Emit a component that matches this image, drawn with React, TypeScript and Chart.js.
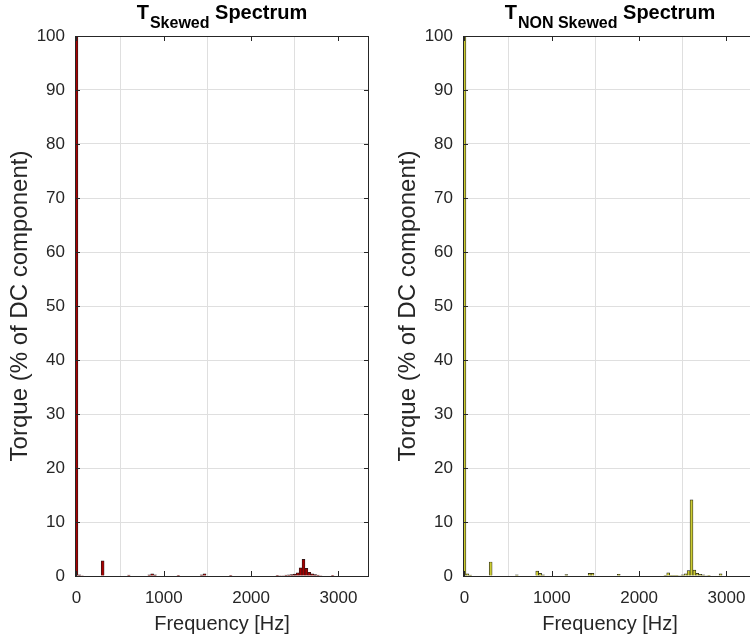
import React, { useEffect, useRef } from "react";
import { Chart, registerables } from "chart.js";

Chart.register(...registerables);

// Frequency bins (Hz) that carry visible energy
const freqHz = [
  0, 33.3, 66.7, 300, 600, 833.3, 866.7, 900, 1166.7, 1433.3, 1466.7, 1766.7,
  2300, 2333.3, 2366.7, 2400, 2433.3, 2466.7, 2500, 2533.3, 2566.7, 2600,
  2633.3, 2666.7, 2700, 2733.3, 2766.7, 2800, 2933.3,
];

// Torque spectrum, % of DC component
const skewedPct = [
  100, 0.2, 0.1, 2.8, 0.15, 0.2, 0.4, 0.2, 0.05, 0.2, 0.4, 0.05,
  0.05, 0.1, 0.1, 0.15, 0.2, 0.25, 0.35, 0.6, 1.5, 3.1,
  1.4, 0.7, 0.4, 0.25, 0.15, 0.1, 0.05,
];
const nonSkewedPct = [
  100, 0.4, 0.15, 2.6, 0.2, 0.9, 0.5, 0.2, 0.25, 0.5, 0.5, 0.3,
  0.05, 0.6, 0.05, 0.05, 0.05, 0.1, 0.2, 0.4, 1.0, 14.1,
  1.1, 0.5, 0.3, 0.2, 0.1, 0.05, 0.4,
];

const xTicks = [0, 1000, 2000, 3000];
const yTicks = [0, 10, 20, 30, 40, 50, 60, 70, 80, 90, 100];
const xMin = -16.7;
const xMax = 3350;
const xLabel = "Frequency [Hz]";
const yLabel = "Torque (% of DC component)";

const FONT = "'Liberation Sans', Arial, Helvetica, sans-serif";
const AXIS = "#262626";
const GRID = "#dfdfdf";

type Props = {
  values: number[];
  fill: string;
  sub: string;
};

function SpectrumChart({ values, fill, sub }: Props) {
  const ref = useRef<HTMLCanvasElement>(null);

  useEffect(() => {
    if (!ref.current) return;

    const frame = {
      id: "matlabFrame",
      afterDraw(chart: any) {
        const { ctx, chartArea: a, scales } = chart;
        ctx.save();
        ctx.strokeStyle = AXIS;
        ctx.lineWidth = 1;
        const tl = 5;
        ctx.beginPath();
        for (const v of xTicks) {
          const px = Math.round(scales.x.getPixelForValue(v)) + 0.5;
          ctx.moveTo(px, a.bottom);
          ctx.lineTo(px, a.bottom - tl);
          ctx.moveTo(px, a.top);
          ctx.lineTo(px, a.top + tl);
        }
        for (const v of yTicks) {
          const py = Math.round(scales.y.getPixelForValue(v)) + 0.5;
          ctx.moveTo(a.left, py);
          ctx.lineTo(a.left + tl, py);
          ctx.moveTo(a.right, py);
          ctx.lineTo(a.right - tl, py);
        }
        ctx.stroke();
        ctx.strokeRect(
          Math.round(a.left) + 0.5,
          Math.round(a.top) + 0.5,
          Math.round(a.right - a.left) - 1,
          Math.round(a.bottom - a.top)
        );

        // Title with subscript
        const mainFont = `bold 20px ${FONT}`;
        const subFont = `bold 16px ${FONT}`;
        ctx.fillStyle = "#000";
        ctx.textBaseline = "alphabetic";
        ctx.textAlign = "left";
        ctx.font = mainFont;
        const wT = ctx.measureText("T").width;
        const wR = ctx.measureText(" Spectrum").width;
        ctx.font = subFont;
        const wS = ctx.measureText(sub).width;
        const total = wT + 1 + wS + wR;
        let x = (a.left + a.right) / 2 - total / 2;
        ctx.font = mainFont;
        ctx.fillText("T", x, 18.5);
        x += wT + 1;
        ctx.font = subFont;
        ctx.fillText(sub, x, 28);
        x += wS;
        ctx.font = mainFont;
        ctx.fillText(" Spectrum", x, 18.5);
        ctx.restore();
      },
    };

    const chart = new Chart(ref.current, {
      type: "bar",
      data: {
        datasets: [
          {
            data: freqHz.map((f, i) => ({ x: f, y: values[i] })),
            backgroundColor: fill,
            borderColor: "#1a1a1a",
            borderWidth: 0.7,
            barPercentage: 1,
            categoryPercentage: 1,
            clip: 0,
          } as any,
        ],
      },
      options: {
        animation: false,
        responsive: false,
        events: [],
        layout: { padding: { top: 36, right: 6, left: 0, bottom: 0 } },
        plugins: {
          legend: { display: false },
          tooltip: { enabled: false },
          title: { display: false },
        },
        scales: {
          x: {
            type: "linear",
            min: xMin,
            max: xMax,
            offset: false,
            afterBuildTicks: (s: any) => {
              s.ticks = xTicks.map((v) => ({ value: v }));
            },
            afterFit: (s: any) => {
              s.height = 68;
            },
            grid: { color: GRID, drawTicks: false, lineWidth: 1 },
            border: { display: false },
            ticks: {
              color: AXIS,
              font: { family: FONT, size: 17 },
              padding: 12,
              maxRotation: 0,
              autoSkip: false,
              callback: (v: any) => String(v),
            },
            title: {
              display: true,
              text: xLabel,
              color: AXIS,
              font: { family: FONT, size: 20 },
              padding: { top: 0, bottom: 8 },
            },
          },
          y: {
            type: "linear",
            min: 0,
            max: 100,
            afterBuildTicks: (s: any) => {
              s.ticks = yTicks.map((v) => ({ value: v }));
            },
            afterFit: (s: any) => {
              s.width = 75;
            },
            grid: { color: GRID, drawTicks: false, lineWidth: 1 },
            border: { display: false },
            ticks: {
              color: AXIS,
              font: { family: FONT, size: 17 },
              padding: 10,
              autoSkip: false,
              callback: (v: any) => String(v),
            },
            title: {
              display: true,
              text: yLabel,
              color: AXIS,
              font: { family: FONT, size: 24 },
              padding: { top: 6, bottom: 0 },
            },
          },
        },
      } as any,
      plugins: [frame],
    });

    return () => chart.destroy();
  }, [values, fill, sub]);

  return <canvas ref={ref} width={375} height={644} style={{ display: "block" }} />;
}

export default function App() {
  return (
    <div
      style={{
        position: "fixed",
        left: 0,
        top: 0,
        width: 750,
        height: 644,
        overflow: "hidden",
        background: "#fff",
      }}
    >
      <div style={{ position: "absolute", left: 0, top: 0 }}>
        <SpectrumChart values={skewedPct} fill="#a80000" sub="Skewed" />
      </div>
      <div style={{ position: "absolute", left: 388, top: 0 }}>
        <SpectrumChart values={nonSkewedPct} fill="#cccc33" sub="NON Skewed" />
      </div>
    </div>
  );
}
